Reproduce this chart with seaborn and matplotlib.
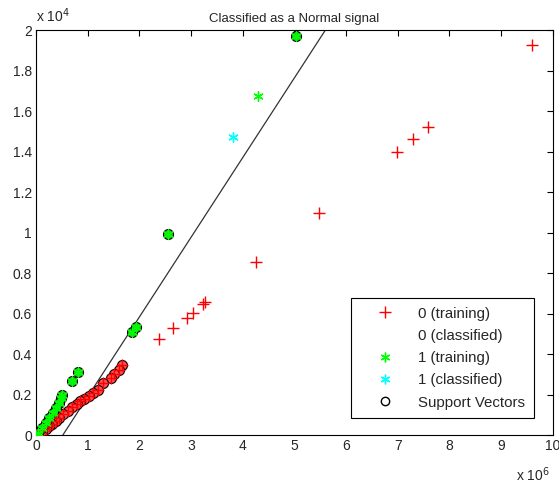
import matplotlib
matplotlib.use("Agg")
import matplotlib.pyplot as plt
from matplotlib.lines import Line2D
import seaborn as sns
import pandas as pd

# ---- data (x in units of 1e6, y in units of 1e4) ----
# class 0 training points far from origin (no support vector)
x0_train = [9.59, 7.58, 7.29, 6.98, 5.47, 4.26, 3.27, 3.23, 3.04, 2.92, 2.65, 2.38]
y0_train = [1.926, 1.521, 1.462, 1.398, 1.096, 0.854, 0.657, 0.645, 0.603, 0.578, 0.528, 0.474]
# class 0 support vectors
x0_sv = [1.67, 1.60, 1.51, 1.46, 1.30, 1.19, 1.11, 1.03, 0.93, 0.86, 0.79, 0.70,
         0.61, 0.53, 0.44, 0.38, 0.31, 0.25, 0.19, 0.12]
y0_sv = [0.344, 0.323, 0.301, 0.281, 0.257, 0.224, 0.207, 0.191, 0.179, 0.166, 0.153, 0.137,
         0.117, 0.104, 0.084, 0.068, 0.056, 0.043, 0.031, 0.02]
# class 1 training without support vector
x1_train = [4.29]
y1_train = [1.674]
# class 1 support vectors
x1_sv = [5.03, 2.55, 1.86, 1.93, 0.70, 0.82, 0.51, 0.48, 0.44, 0.38, 0.32, 0.25, 0.19, 0.12, 0.04]
y1_sv = [1.97, 0.993, 0.509, 0.533, 0.265, 0.311, 0.196, 0.183, 0.158, 0.133, 0.109, 0.084,
         0.059, 0.035, 0.01]
# class 1 classified
x1_cls = [3.81]
y1_cls = [1.47]
# decision boundary
x_line = [0.52, 5.60]
y_line = [0.0, 2.0]

x_ticks = list(range(0, 11))
y_ticks = [0, 0.2, 0.4, 0.6, 0.8, 1.0, 1.2, 1.4, 1.6, 1.8, 2.0]
y_tick_labels = ["0", "0.2", "0.4", "0.6", "0.8", "1", "1.2", "1.4", "1.6", "1.8", "2"]
legend_labels = ["0 (training)", "0 (classified)", "1 (training)", "1 (classified)", "Support Vectors"]
title = "Classified as a Normal signal"

sns.set_theme(style="white")
plt.rcParams['font.family'] = ['Liberation Sans', 'DejaVu Sans']
plt.rcParams['xtick.direction'] = 'in'
plt.rcParams['ytick.direction'] = 'in'

fig = plt.figure(figsize=(5.59, 4.88), dpi=100)
ax = fig.add_axes([0.0644, 0.1086, 0.9246, 0.8299])

df0t = pd.DataFrame({"x": x0_train + x0_sv, "y": y0_train + y0_sv})
df0s = pd.DataFrame({"x": x0_sv, "y": y0_sv})
df1t = pd.DataFrame({"x": x1_train + x1_sv, "y": y1_train + y1_sv})
df1s = pd.DataFrame({"x": x1_sv, "y": y1_sv})
df1c = pd.DataFrame({"x": x1_cls, "y": y1_cls})

ax.plot(x_line, y_line, color="#333333", lw=0.9, zorder=2)

# support vector circles
sns.scatterplot(data=df0s, x="x", y="y", ax=ax, marker="o", s=52,
                color="#ff5050", edgecolor="black", linewidth=0.8, zorder=3)
sns.scatterplot(data=df1s, x="x", y="y", ax=ax, marker="o", s=52,
                color="#22cc22", edgecolor="black", linewidth=0.8, zorder=3)
# training points
ax.scatter(df0t["x"], df0t["y"], marker="+", s=70, color="red", linewidths=1.0, zorder=4)
ax.scatter(df1t["x"], df1t["y"], marker=(6, 2, 0), s=45, color="#00ff00", linewidths=1.0, zorder=4)
ax.scatter(df1c["x"], df1c["y"], marker=(6, 2, 0), s=45, color="cyan", linewidths=1.0, zorder=4)

ax.set_xlim(0, 10)
ax.set_ylim(0, 2)
ax.set_xticks(x_ticks)
ax.set_xticklabels([str(t) for t in x_ticks])
ax.set_yticks(y_ticks)
ax.set_yticklabels(y_tick_labels)
ax.set_xlabel("")
ax.set_ylabel("")
ax.tick_params(axis="both", which="both", direction="in", top=True, right=True,
               length=4, width=0.8, color="black", labelsize=10, pad=3)
for sp in ax.spines.values():
    sp.set_color("black")
    sp.set_linewidth(0.8)
ax.set_title(title, fontsize=9.5, pad=6)

ax.text(0.0, 1.012, r"x 10$^{4}$", transform=ax.transAxes, fontsize=10, ha="left", va="bottom")
ax.text(0.995, -0.076, r"x 10$^{6}$", transform=ax.transAxes, fontsize=10, ha="right", va="top")

handles = [
    Line2D([], [], ls="none", marker="+", color="red", markersize=9, mew=1.0),
    Line2D([], [], ls="none", marker=None, color="none"),
    Line2D([], [], ls="none", marker=(6, 2, 0), color="#00ff00", markersize=7, mew=1.0),
    Line2D([], [], ls="none", marker=(6, 2, 0), color="cyan", markersize=7, mew=1.0),
    Line2D([], [], ls="none", marker="o", markerfacecolor="none", markeredgecolor="black",
           markersize=6, mew=1.0),
]
leg = ax.legend(handles, legend_labels, loc="lower right", bbox_to_anchor=(0.963, 0.042),
                borderaxespad=0, fontsize=10.8, frameon=True, fancybox=False,
                edgecolor="black", framealpha=1, handletextpad=0.45, labelspacing=0.55,
                borderpad=0.55, handlelength=3.5)
leg.get_frame().set_linewidth(0.8)

fig.savefig("out.png", dpi=100)
